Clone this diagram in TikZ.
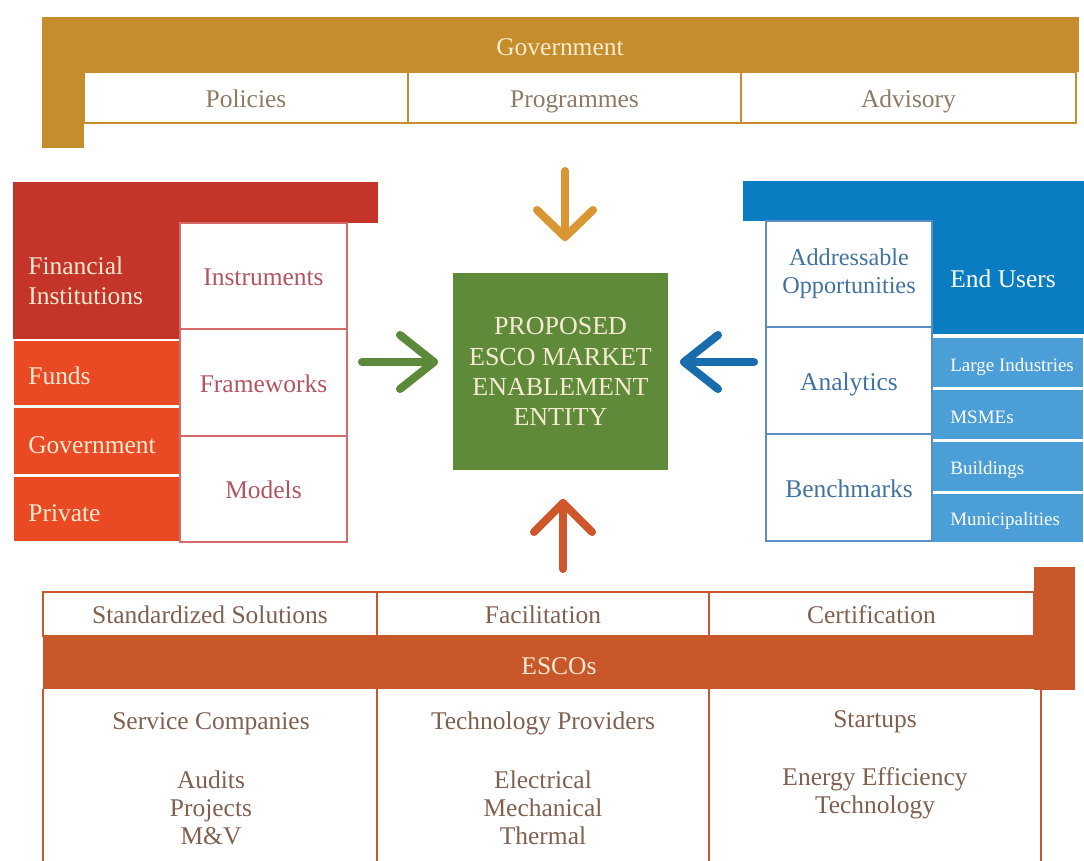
\documentclass[tikz,border=0pt]{standalone}
\usepackage{fontspec}
\setmainfont{Liberation Serif}
\definecolor{gold}{HTML}{C58D2B}
\definecolor{goldarr}{HTML}{DA9632}
\definecolor{govtext}{HTML}{8E7B64}
\definecolor{dred}{HTML}{C43428}
\definecolor{ored}{HTML}{E94A23}
\definecolor{redline}{HTML}{D56A6A}
\definecolor{redtext}{HTML}{B35560}
\definecolor{bblue}{HTML}{0A7CC1}
\definecolor{lblue}{HTML}{4B9ED6}
\definecolor{blueline}{HTML}{5B8FC4}
\definecolor{bluetext}{HTML}{4173A0}
\definecolor{bluearr}{HTML}{1A6DAD}
\definecolor{egreen}{HTML}{5E8A3A}
\definecolor{greenarr}{HTML}{5D8A3A}
\definecolor{eorange}{HTML}{C8582A}
\definecolor{orangearr}{HTML}{D0562C}
\definecolor{escotext}{HTML}{80604F}
\definecolor{cream}{HTML}{F6EAD2}
\newcommand\boxcell[7]{\node[cell,minimum width={(#4-#2)*0.02cm},minimum height={(#5-#3)*0.02cm},#6] (#1) at ({(#2+#4)/2},{(#3+#5)/2}) {#7};}
\begin{document}
\begin{tikzpicture}[x=0.02cm,y=-0.02cm,font=\fontsize{14.5}{17}\selectfont]
\tikzset{
  cell/.style={inner sep=0pt, outer sep=0pt, align=center},
  oneline/.style={text height=11pt, text depth=0pt},
  govcell/.style={oneline, draw=gold, line width=1pt, fill=white, text=govtext},
  redcell/.style={oneline, draw=redline, line width=0.8pt, fill=white, text=redtext},
  bluecell/.style={draw=blueline, line width=0.8pt, fill=white, text=bluetext},
  esccell/.style={oneline, draw=eorange, line width=1pt, fill=white, text=escotext},
  redblock/.style={fill=ored, draw=white, line width=1.5pt},
  lbblock/.style={fill=lblue, draw=white, line width=1.5pt},
  lefttxt/.style={anchor=west, inner sep=0pt, align=left},
  chev/.style={line width=4.6pt, line cap=round, line join=round},
  esline/.style={draw=eorange, line width=1pt},
}
\useasboundingbox (0,0) rectangle (1084,860);
% ---------------- Government
\boxcell{govbar}{42}{17}{1079}{72}{fill=gold}{}
\boxcell{govleg}{42}{17}{84}{148}{fill=gold}{}
\node[oneline,text=cream] (govt) at (560,46) {Government};
\boxcell{pol}{84}{72}{408}{123}{govcell}{Policies}
\boxcell{prog}{408}{72}{741}{123}{govcell}{Programmes}
\boxcell{adv}{741}{72}{1076}{123}{govcell}{Advisory}
% ---------------- Financial (left)
\boxcell{redbar}{13}{182}{378}{223}{fill=dred}{}
\boxcell{finblk}{13}{182}{180}{339}{fill=dred}{}
\node[lefttxt,text=cream] (fin) at (28,281) {Financial\\Institutions};
\boxcell{funds}{13}{340}{180}{406}{redblock}{}
\boxcell{fgov}{13}{407}{180}{475}{redblock}{}
\boxcell{priv}{13}{476}{180}{542}{redblock}{}
\node[lefttxt,oneline,text=cream] (fundst) at (28,375) {Funds};
\node[lefttxt,oneline,text=cream] (fgovt) at (28,444) {Government};
\node[lefttxt,oneline,text=cream] (privt) at (28,512) {Private};
\boxcell{instr}{180}{223}{347}{329}{redcell}{Instruments}
\boxcell{frame}{180}{329}{347}{436}{redcell}{Frameworks}
\boxcell{models}{180}{436}{347}{542}{redcell}{Models}
% ---------------- End users (right)
\boxcell{bluebar}{743}{181}{1084}{221}{fill=bblue}{}
\boxcell{endblk}{932}{181}{1084}{334}{fill=bblue}{}
\node[lefttxt,oneline,text=white] (endu) at (950,278) {End Users};
\boxcell{large}{932}{337}{1084}{388}{lbblock}{}
\boxcell{msme}{932}{389}{1084}{440}{lbblock}{}
\boxcell{build}{932}{441}{1084}{492}{lbblock}{}
\boxcell{muni}{932}{493}{1084}{543}{lbblock}{}
\begin{scope}[font=\fontsize{10.8}{12}\selectfont]
\node[lefttxt,text height=8pt,text depth=0pt,text=white] (larget) at (950,364) {Large Industries};
\node[lefttxt,text height=8pt,text depth=0pt,text=white] (msmet) at (950,416) {MSMEs};
\node[lefttxt,text height=8pt,text depth=0pt,text=white] (buildt) at (950,467) {Buildings};
\node[lefttxt,text height=8pt,text depth=0pt,text=white] (munit) at (950,518) {Municipalities};
\end{scope}
\boxcell{addr}{766}{221}{932}{327}{bluecell,font=\fontsize{13.8}{16}\selectfont}{Addressable\\Opportunities}
\boxcell{anal}{766}{327}{932}{434}{bluecell,oneline}{Analytics}
\boxcell{bench}{766}{434}{932}{541}{bluecell,oneline}{Benchmarks}
% ---------------- Centre
\boxcell{esco}{453}{273}{668}{470}{fill=egreen,text=cream,font=\fontsize{14.8}{17.2}\selectfont}{PROPOSED\\ESCO MARKET\\ENABLEMENT\\ENTITY}
% arrows
\coordinate (gs) at (362,362); \coordinate (ge) at (434,362);
\draw[chev,greenarr] (gs) -- (ge);
\draw[chev,greenarr] ([shift={(-34,-27)}]ge) -- (ge) -- ([shift={(-34,27)}]ge);
\coordinate (bs) at (754,362); \coordinate (be) at (684,362);
\draw[chev,bluearr] (bs) -- (be);
\draw[chev,bluearr] ([shift={(34,-27)}]be) -- (be) -- ([shift={(34,27)}]be);
\coordinate (ts) at (565,171); \coordinate (te) at (565,237);
\draw[chev,goldarr] (ts) -- (te);
\draw[chev,goldarr] ([shift={(-28,-27)}]te) -- (te) -- ([shift={(28,-27)}]te);
\coordinate (us) at (563,569); \coordinate (ue) at (563,503);
\draw[chev,orangearr] (us) -- (ue);
\draw[chev,orangearr] ([shift={(-29,29)}]ue) -- (ue) -- ([shift={(29,29)}]ue);
% ---------------- ESCOs (bottom)
\boxcell{escleg}{1034}{567}{1075}{690}{fill=eorange}{}
\boxcell{std}{43}{592}{377}{636}{esccell}{Standardized Solutions}
\boxcell{fac}{377}{592}{709}{636}{esccell}{Facilitation}
\boxcell{cert}{709}{592}{1034}{636}{esccell}{Certification}
\boxcell{escbar}{43}{636}{1075}{689}{fill=eorange}{}
\node[oneline,text=cream] (escot) at (559,665) {ESCOs};
\draw[esline] (43,689) -- (43,870);
\draw[esline] (377,689) -- (377,870);
\draw[esline] (709,689) -- (709,870);
\draw[esline] (1041,689) -- (1041,870);
\begin{scope}[text=escotext]
\node[oneline] (svc) at (211,720) {Service Companies};
\node[align=center,font=\fontsize{14.5}{16}\selectfont] (svcl) at (211,808) {Audits\\Projects\\M\&V};
\node[oneline] (tech) at (543,720) {Technology Providers};
\node[align=center,font=\fontsize{14.5}{16}\selectfont] (techl) at (543,808) {Electrical\\Mechanical\\Thermal};
\node[oneline] (start) at (875,718) {Startups};
\node[align=center,font=\fontsize{14.5}{16}\selectfont] (startl) at (875,793) {Energy Efficiency\\Technology};
\end{scope}
\end{tikzpicture}
\end{document}
